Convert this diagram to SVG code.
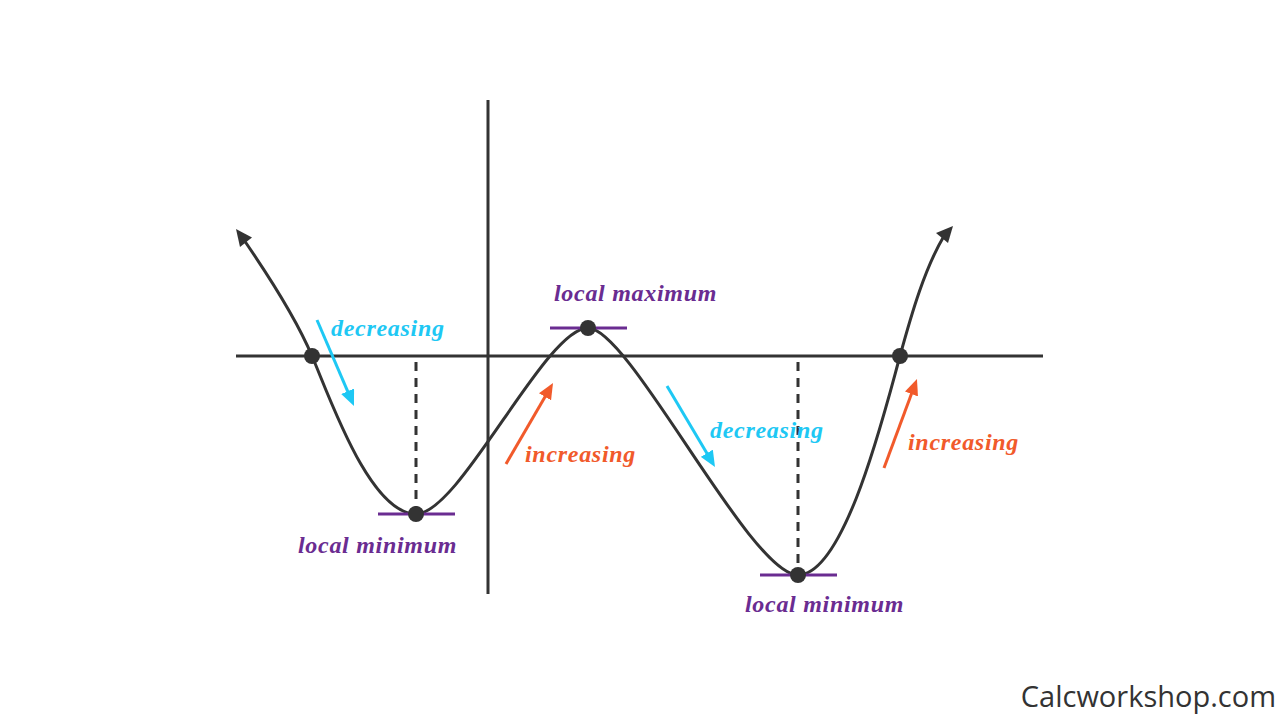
<svg xmlns="http://www.w3.org/2000/svg" width="1280" height="720" viewBox="0 0 1280 720">
<defs>
<style>
.axis{stroke:#333;stroke-width:3;fill:none}
.curve{stroke:#333;stroke-width:3;fill:none}
.dash{stroke:#333;stroke-width:3;stroke-dasharray:9,7;fill:none}
.tan{stroke:#6a2c91;stroke-width:3}
.dot{fill:#333}
.lbl{font-family:"Liberation Serif","Times New Roman",serif;font-weight:bold;font-style:italic;font-size:24px;letter-spacing:0.7px}
.pur{fill:#6a2c91}
.cy{fill:#1ec8f4}
.or{fill:#f15a2b}
.cyl{stroke:#1ec8f4;stroke-width:3}
.orl{stroke:#f15a2b;stroke-width:3}
</style>
<marker id="mc" markerUnits="userSpaceOnUse" markerWidth="16" markerHeight="14" viewBox="0 0 16 14" refX="8" refY="7" orient="auto"><path d="M0,0 L16,7 L0,14 z" fill="#1ec8f4"/></marker>
<marker id="mo" markerUnits="userSpaceOnUse" markerWidth="16" markerHeight="14" viewBox="0 0 16 14" refX="8" refY="7" orient="auto"><path d="M0,0 L16,7 L0,14 z" fill="#f15a2b"/></marker>
</defs>
<rect width="1280" height="720" fill="#fff"/>
<g id="axes">
<line class="axis" x1="236" y1="356" x2="1043" y2="356"/>
<line class="axis" x1="488" y1="100" x2="488" y2="594"/>
</g>
<g id="dashes">
<line class="dash" x1="416" y1="362" x2="416" y2="508"/>
<line class="dash" x1="798" y1="362" x2="798" y2="570"/>
</g>
<g id="curve">
<path class="curve" d="M244,240 C266,272 296,318 312,356 C330,398 370,514 416,514 C460,514 545,328 588,328 C630,328 750,575 798,575 C845,575 885,410 900,356 C912,312 925,268 944,236"/>
<polygon class="dot" points="236,229 252,237.5 240,247"/>
<polygon class="dot" points="953,226 936,233 948,243"/>
</g>
<g id="tangents">
<line class="tan" x1="378" y1="514" x2="455" y2="514"/>
<line class="tan" x1="550" y1="328" x2="627" y2="328"/>
<line class="tan" x1="760" y1="575" x2="837" y2="575"/>
</g>
<g id="points">
<circle class="dot" cx="312" cy="356" r="8"/>
<circle class="dot" cx="416" cy="514" r="8"/>
<circle class="dot" cx="588" cy="328" r="8"/>
<circle class="dot" cx="798" cy="575" r="8"/>
<circle class="dot" cx="900" cy="356" r="8"/>
</g>
<g id="connectors">
<line class="cyl" x1="317" y1="320" x2="350.8" y2="398.6" marker-end="url(#mc)"/>
<line class="orl" x1="506" y1="464" x2="549" y2="389.9" marker-end="url(#mo)"/>
<line class="cyl" x1="667" y1="386" x2="710.9" y2="460.1" marker-end="url(#mc)"/>
<line class="orl" x1="884" y1="468" x2="914.2" y2="386.5" marker-end="url(#mo)"/>
</g>
<g id="labels">
<text class="lbl cy" x="331" y="336">decreasing</text>
<text class="lbl pur" x="554" y="301">local maximum</text>
<text class="lbl or" x="525" y="462">increasing</text>
<text class="lbl cy" x="710" y="438">decreasing</text>
<text class="lbl or" x="908" y="450">increasing</text>
<text class="lbl pur" x="298" y="553">local minimum</text>
<text class="lbl pur" x="745" y="612">local minimum</text>
</g>
<text x="1276" y="707" text-anchor="end" font-family="'Open Sans',sans-serif" font-size="29" fill="#333">Calcworkshop.com</text>
</svg>
